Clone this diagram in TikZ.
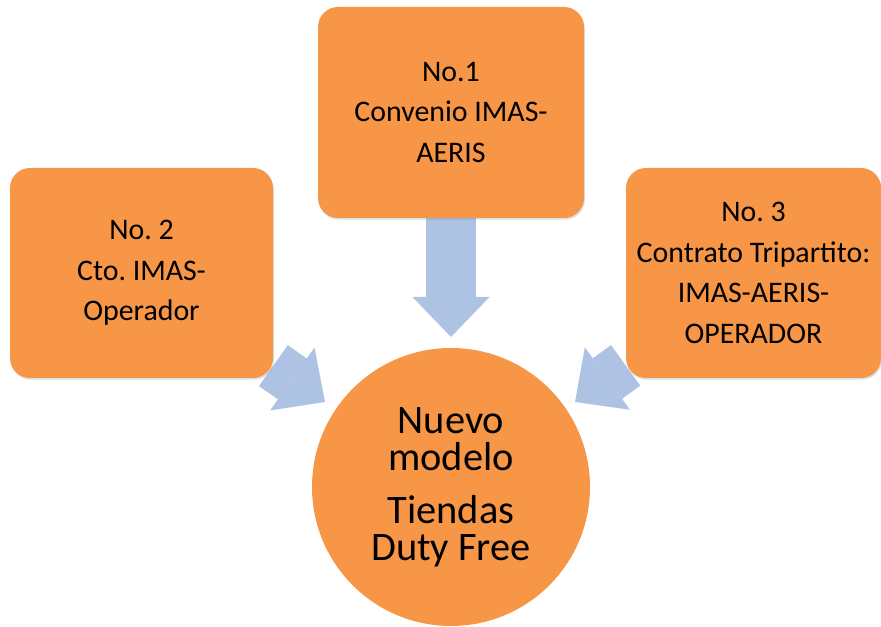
\documentclass[tikz,border=0pt]{standalone}
\usepackage{fontspec}
\setmainfont{Carlito}
\frenchspacing
\usepackage{tikz}
\usetikzlibrary{arrows.meta,positioning,shadows,backgrounds}
\definecolor{naranja}{RGB}{247,150,70}
\definecolor{azul}{RGB}{174,194,228}
\tikzstyle{caja}=[draw=none, fill=naranja, rounded corners=0.4cm, align=center,
    font=\fontsize{17}{23}\selectfont,
    drop shadow={shadow xshift=0.5pt, shadow yshift=-1pt, opacity=0.25}]
\tikzstyle{modelo}=[circle, fill=naranja, draw=none, inner sep=0pt, minimum size=5.56cm,
    align=center, font=\fontsize{23}{21}\selectfont]
\tikzstyle{flecha}=[draw=azul, line width=1cm,
    -{Triangle[length=0.8cm, width=1.54cm, line width=0pt]}]

\begin{document}
\begin{tikzpicture}

\useasboundingbox (0,0) rectangle (17.62,12.54);

% cajas
\node[caja, minimum width=5.32cm, minimum height=4.22cm] (c1) at (9.02,10.29)
    {No.1\\Convenio IMAS-\\AERIS};
\node[caja, minimum width=5.26cm, minimum height=4.2cm] (c2) at (2.83,7.08)
    {No. 2\\Cto. IMAS-\\Operador};
\node[caja, minimum width=5.1cm, minimum height=4.2cm] (c3) at (15.07,7.08)
    {No. 3\\Contrato Tripartito:\\IMAS-AERIS-\\OPERADOR};

% modelo
\node[modelo] (m) at (9.02,2.8)
    {Nuevo\\modelo\\[0.32cm]Tiendas\\Duty Free};

% puntas
\coordinate (p1) at (9.02,5.8);
\coordinate (p2) at (6.5,4.5);
\coordinate (p3) at (11.5,4.5);

% flechas
\begin{scope}[on background layer]
\draw[flecha] (c1) -- (p1);
\draw[flecha] (c2) -- (p2);
\draw[flecha] (c3) -- (p3);
\end{scope}

\end{tikzpicture}
\end{document}
